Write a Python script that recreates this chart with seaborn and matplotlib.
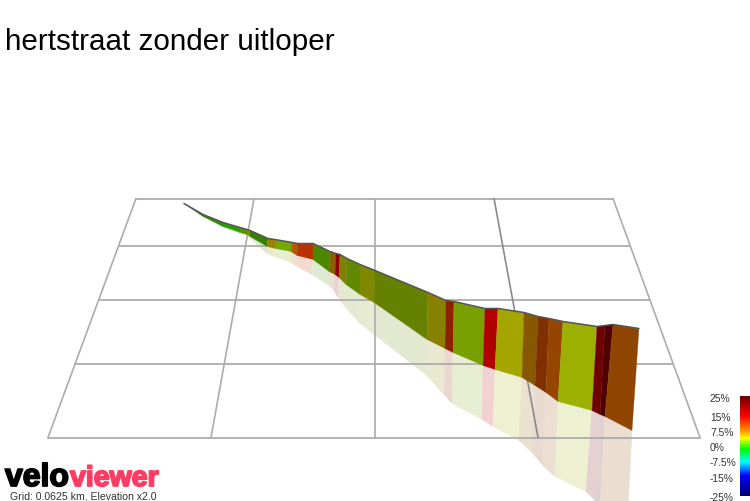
import numpy as np
import pandas as pd
import seaborn as sns
import matplotlib
matplotlib.use("Agg")
import matplotlib.pyplot as plt
import matplotlib.patheffects as pe
from matplotlib.colors import LinearSegmentedColormap, to_rgb

title = "hertstraat zonder uitloper"
grid_note = "Grid: 0.0625 km, Elevation x2.0"

top_x = [184,203,223,240,247,250,268,275,292,298,313,330,336,340,347,360,375,428,446,454,485,498,524,538,549,563,597,605,613,639]
top_y = [204,215,223,228,230,231,239,240,243,244,244,252,254,255,259,265,271,293,301,302,309,309,313,317,319,322,327,326,325,329]
wall_x = [184,203,223,240,247,250,267,275,291,297,313,329,335,339,346,360,374,427,445,453,483,495,522,535,546,558,592,600,605,632]
wall_y = [204,217,227,233,235,237,247,249,252,256,260,272,275,278,285,295,303,340,349,353,366,370,378,386,393,402,411,415,417,431]
shadow_x = [184,203,223,240,246,249,267,274,291,297,312,329,334,338,345,359,374,427,444,452,482,493,519,532,543,555,586,595,600,627]
shadow_y = [204,217,228,234,236,238,254,257,263,267,275,286,291,298,307,323,335,376,395,404,420,427,441,453,466,477,492,501,506,530]
segment_colors = ["#2a7a10","#2e8b0a","#2aa000","#4f9a00","#8a8a00","#3a8000","#a08000","#74a800","#b05a00","#bb3000",
                  "#4a8800","#8a6000","#900000","#808000","#608800","#808800","#668000","#888000","#8f2000","#78a000",
                  "#b00000","#a5a500","#885800","#803000","#954500","#9bb000","#700000","#500000","#8f4500"]

grid_h_y = [199, 246, 300, 364, 438]
grid_h_x0 = [136, 119, 99, 75, 48]
grid_h_x1 = [613, 630, 650, 673, 700]
grid_v_top = [136, 254, 375, 494, 613]
grid_v_bottom = [48, 211, 375, 538, 700]

scale_labels = ["25%", "15%", "7.5%", "0%", "-7.5%", "-15%", "-25%"]
scale_label_y = [399, 418, 433, 448, 463, 479, 498]
scale_stops = [0.0, 0.2, 0.35, 0.42, 0.53, 0.66, 0.8, 1.0]
scale_colors = ["#700000","#ff0000","#ff9a00","#ffff00","#00ff00","#00ffff","#0000ff","#000070"]


def set_limits(a):
    a.set_xlim(0, 750)
    a.set_ylim(501.5, -0.5)


def tint(c, a=0.18):
    return tuple(a * v + (1 - a) for v in to_rgb(c))


sns.set_theme(style="white")
plt.rcParams["font.family"] = ["Liberation Sans", "DejaVu Sans"]

fig = plt.figure(figsize=(7.5, 5.02), dpi=100)
ax = fig.add_axes([0, 0, 1, 1])
set_limits(ax)
ax.axis("off")

# floor grid, above the pale shadow but below the wall
for y, a, b in zip(grid_h_y, grid_h_x0, grid_h_x1):
    g = pd.DataFrame({"x": [a, b], "y": [y, y]})
    sns.lineplot(data=g, x="x", y="y", ax=ax, color="#acacac", lw=1.3, estimator=None, sort=False, zorder=2.5)
for a, b in zip(grid_v_top, grid_v_bottom):
    g = pd.DataFrame({"x": [a, b], "y": [grid_h_y[0], grid_h_y[-1]]})
    col = "#8a8a8a" if a == 494 else "#acacac"
    sns.lineplot(data=g, x="x", y="y", ax=ax, color=col, lw=1.2, estimator=None, sort=False, zorder=2.5)

# ground shadow and profile wall
for i, c in enumerate(segment_colors):
    sx = [wall_x[i], wall_x[i + 1], shadow_x[i + 1], shadow_x[i]]
    sy = [wall_y[i], wall_y[i + 1], shadow_y[i + 1], shadow_y[i]]
    ax.fill(sx, sy, facecolor=tint(c), edgecolor=tint(c), lw=0.3, zorder=2)
for i, c in enumerate(segment_colors):
    wx = [top_x[i], top_x[i + 1], wall_x[i + 1], wall_x[i]]
    wy = [top_y[i], top_y[i + 1], wall_y[i + 1], wall_y[i]]
    ax.fill(wx, wy, facecolor=c, edgecolor=c, lw=0.2, zorder=3)

profile = pd.DataFrame({"x": top_x, "y": top_y})
sns.lineplot(data=profile, x="x", y="y", ax=ax, color="#555555", lw=1.1, estimator=None, sort=False, zorder=4)
ax.set_xlabel("")
ax.set_ylabel("")

# title
ax.text(5, 50, title, fontsize=21.3, color="black", ha="left", va="baseline")

# gradient scale
cmap = LinearSegmentedColormap.from_list("grade", list(zip(scale_stops, scale_colors)))
ax.imshow(np.linspace(0, 1, 200).reshape(-1, 1), cmap=cmap, extent=(740, 750, 497, 397), aspect="auto", zorder=3)
set_limits(ax)
for t, y in zip(scale_labels, scale_label_y):
    ax.text(710, y, t, fontsize=7.4, color="#333333", ha="left", va="center")

# logo
ax.text(5, 486.5, "velo", fontsize=23, fontweight="bold", color="black", ha="left", va="baseline",
        path_effects=[pe.withStroke(linewidth=1.3, foreground="black")])
ax.text(70, 486.5, "viewer", fontsize=20.5, fontweight="bold", color="#ff3d64", ha="left", va="baseline",
        path_effects=[pe.withStroke(linewidth=1.3, foreground="#ff3d64")])
ax.text(10, 499, grid_note, fontsize=7.6, color="#333333", ha="left", va="baseline")

fig.savefig("out.png", dpi=100)
